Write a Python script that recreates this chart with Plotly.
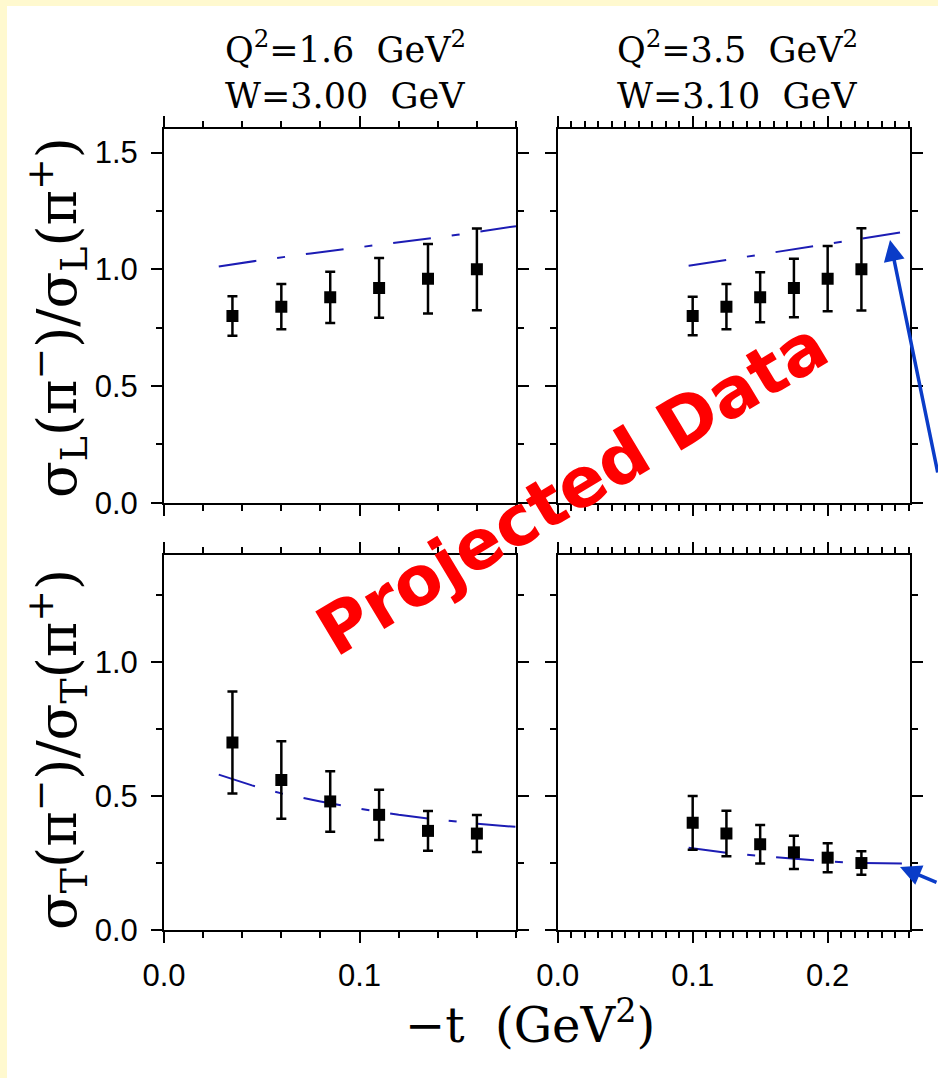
import plotly.graph_objects as go

# ---------------- data ----------------
t_lowQ = [0.035, 0.060, 0.085, 0.110, 0.135, 0.160]
t_highQ = [0.100, 0.125, 0.150, 0.175, 0.200, 0.225]

ratioL_lowQ = [0.80, 0.84, 0.88, 0.92, 0.96, 1.00]
ratioL_lowQ_err = [0.085, 0.097, 0.110, 0.128, 0.149, 0.175]
ratioL_highQ = [0.80, 0.84, 0.88, 0.92, 0.96, 1.00]
ratioL_highQ_err = [0.083, 0.097, 0.107, 0.125, 0.140, 0.176]

ratioT_lowQ = [0.70, 0.56, 0.48, 0.43, 0.37, 0.36]
ratioT_lowQ_err = [0.190, 0.145, 0.113, 0.094, 0.074, 0.069]
ratioT_highQ = [0.40, 0.36, 0.32, 0.29, 0.27, 0.25]
ratioT_highQ_err = [0.100, 0.085, 0.072, 0.062, 0.054, 0.044]

modelL_lowQ_t = [0.028, 0.050, 0.075, 0.100, 0.125, 0.150, 0.180]
modelL_lowQ = [1.012, 1.040, 1.068, 1.095, 1.122, 1.148, 1.185]
modelL_highQ_t = [0.097, 0.125, 0.150, 0.175, 0.200, 0.225, 0.256]
modelL_highQ = [1.015, 1.040, 1.063, 1.087, 1.108, 1.130, 1.160]

modelT_lowQ_t = [0.028, 0.045, 0.060, 0.080, 0.100, 0.120, 0.140, 0.160, 0.180]
modelT_lowQ = [0.580, 0.540, 0.510, 0.480, 0.453, 0.430, 0.412, 0.397, 0.385]
modelT_highQ_t = [0.097, 0.125, 0.150, 0.175, 0.200, 0.225, 0.257]
modelT_highQ = [0.307, 0.288, 0.276, 0.265, 0.256, 0.250, 0.248]

panel_titles_Q = ["Q<sup>2</sup>=1.6\u00a0\u00a0GeV<sup>2</sup>", "Q<sup>2</sup>=3.5\u00a0\u00a0GeV<sup>2</sup>"]
panel_titles_W = ["W=3.00\u00a0\u00a0GeV", "W=3.10\u00a0\u00a0GeV"]

# ---------------- layout geometry ----------------
W, H = 938, 1078
def fx(p):
    return p / W
def fy(p):
    return 1 - p / H

xd_left = [fx(164), fx(516)]
xd_right = [fx(557.7), fx(910)]
yd_top = [fy(502.7), fy(129.3)]
yd_bot = [fy(930), fy(555)]

CURVE = "#1c1cb4"
DASH = "38px,21px,8px,21px"
TICKFONT = dict(family="Liberation Sans", size=31, color="black")

fig = go.Figure()

panels = [
    ("x", "y", modelL_lowQ_t, modelL_lowQ, t_lowQ, ratioL_lowQ, ratioL_lowQ_err),
    ("x2", "y2", modelL_highQ_t, modelL_highQ, t_highQ, ratioL_highQ, ratioL_highQ_err),
    ("x3", "y3", modelT_lowQ_t, modelT_lowQ, t_lowQ, ratioT_lowQ, ratioT_lowQ_err),
    ("x4", "y4", modelT_highQ_t, modelT_highQ, t_highQ, ratioT_highQ, ratioT_highQ_err),
]
for xa, ya, mt, mv, t, v, e in panels:
    fig.add_trace(go.Scatter(x=mt, y=mv, mode="lines", xaxis=xa, yaxis=ya,
                             line=dict(color=CURVE, width=2, dash=DASH),
                             showlegend=False, hoverinfo="skip"))
    fig.add_trace(go.Scatter(x=t, y=v, mode="markers", xaxis=xa, yaxis=ya,
                             marker=dict(symbol="square", size=12, color="black"),
                             error_y=dict(type="data", array=e, color="black",
                                          thickness=2.5, width=5),
                             showlegend=False))


def xaxis(domain, rng, minor_dtick, labels, anchor):
    return dict(domain=domain, range=rng, anchor=anchor, showline=True,
                linecolor="black", linewidth=2, mirror="ticks", ticks="outside",
                ticklen=11, tickwidth=2, tickcolor="black", tick0=0, dtick=0.1,
                tickformat=".1f", showticklabels=labels, showgrid=False,
                zeroline=False, tickfont=TICKFONT, ticklabelstandoff=6,
                minor=dict(tick0=0, dtick=minor_dtick, ticks="outside", ticklen=6,
                           tickwidth=2, tickcolor="black", showgrid=False))


def yaxis(domain, rng, labels, anchor):
    return dict(domain=domain, range=rng, anchor=anchor, showline=True,
                linecolor="black", linewidth=2, mirror="ticks", ticks="outside",
                ticklen=11, tickwidth=2, tickcolor="black", tick0=0, dtick=0.5,
                tickformat=".1f", showticklabels=labels, showgrid=False,
                zeroline=False, tickfont=TICKFONT, ticklabelstandoff=7,
                minor=dict(tick0=0, dtick=0.25, ticks="outside", ticklen=6,
                           tickwidth=2, tickcolor="black", showgrid=False))


fig.update_layout(
    width=W, height=H,
    margin=dict(l=0, r=0, t=0, b=0, autoexpand=False),
    paper_bgcolor="#FFF9CF",
    plot_bgcolor="white",
    xaxis=xaxis(xd_left, [0, 0.18], 0.02, False, "y"),
    yaxis=yaxis(yd_top, [0, 1.6], True, "x"),
    xaxis2=xaxis(xd_right, [0, 0.261], 0.01, False, "y2"),
    yaxis2=yaxis(yd_top, [0, 1.6], False, "x2"),
    xaxis3=xaxis(xd_left, [0, 0.18], 0.02, True, "y3"),
    yaxis3=yaxis(yd_bot, [0, 1.4], True, "x3"),
    xaxis4=xaxis(xd_right, [0, 0.261], 0.01, True, "y4"),
    yaxis4=yaxis(yd_bot, [0, 1.4], False, "x4"),
    shapes=[dict(type="rect", xref="paper", yref="paper", x0=fx(7), x1=1.01,
                 y0=-0.01, y1=fy(6), fillcolor="white", line=dict(width=0),
                 layer="below")],
)

ann = []
title_font = dict(family="DejaVu Serif", size=35, color="black")
for cx, q, w in zip([fx(345), fx(737)], panel_titles_Q, panel_titles_W):
    ann.append(dict(x=cx, y=fy(47), xref="paper", yref="paper", text=q,
                    showarrow=False, font=title_font, xanchor="center", yanchor="middle"))
    ann.append(dict(x=cx, y=fy(96), xref="paper", yref="paper", text=w,
                    showarrow=False, font=title_font, xanchor="center", yanchor="middle"))

ylab_font = dict(family="DejaVu Serif", size=54, color="black")
ann.append(dict(x=fx(57), y=fy(318), xref="paper", yref="paper", textangle=-90,
                text="σ<sub>L</sub>(π<sup>−</sup>)/σ<sub>L</sub>(π<sup>+</sup>)",
                showarrow=False, font=ylab_font, xanchor="center", yanchor="middle"))
ann.append(dict(x=fx(57), y=fy(750), xref="paper", yref="paper", textangle=-90,
                text="σ<sub>T</sub>(π<sup>−</sup>)/σ<sub>T</sub>(π<sup>+</sup>)",
                showarrow=False, font=ylab_font, xanchor="center", yanchor="middle"))
ann.append(dict(x=fx(530), y=fy(1022), xref="paper", yref="paper",
                text="−t\u00a0\u00a0(GeV<sup>2</sup>)", showarrow=False,
                font=dict(family="DejaVu Serif", size=48, color="black"),
                xanchor="center", yanchor="middle"))
ann.append(dict(x=fx(572), y=fy(488), xref="paper", yref="paper", textangle=-31,
                text="<b>Projected Data</b>", showarrow=False,
                font=dict(family="DejaVu Sans", size=69, color="#FF0000"),
                xanchor="center", yanchor="middle"))
ARROW = "#0a3cc8"
ann.append(dict(x=fx(890), y=fy(240), xref="paper", yref="paper", text="",
                showarrow=True, ax=65, ay=234, arrowhead=2, arrowsize=1.2,
                arrowwidth=3.5, arrowcolor=ARROW, standoff=0))
ann.append(dict(x=fx(900), y=fy(867), xref="paper", yref="paper", text="",
                showarrow=True, ax=55, ay=16, arrowhead=2, arrowsize=1.2,
                arrowwidth=3.5, arrowcolor=ARROW, standoff=0))
fig.update_layout(annotations=ann)

fig.write_html("out.html")
